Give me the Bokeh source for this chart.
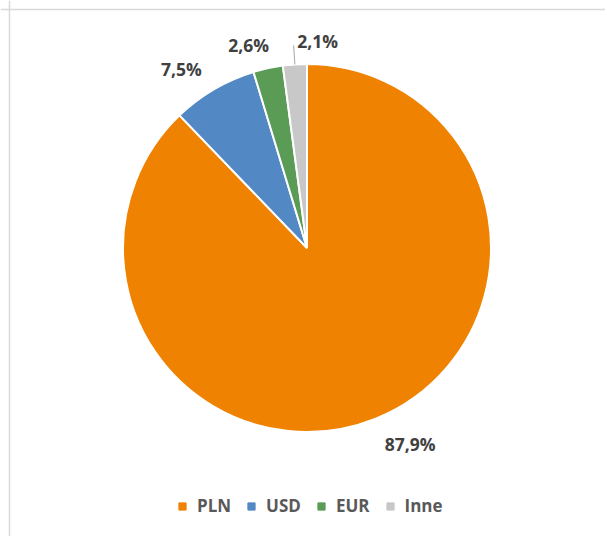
import math
from bokeh.plotting import figure
from bokeh.models import ColumnDataSource, Range1d, Span, Legend, LegendItem
from bokeh.core.properties import value
from bokeh.embed import file_html
from bokeh.resources import INLINE

# ---- data ----
categories = ["PLN", "USD", "EUR", "Inne"]
shares = [87.9, 7.5, 2.6, 2.1]

# ---- style / layout ----
colors = ["#EF8200", "#5288C4", "#5A9B55", "#C8C8C8"]
label_align = ["left", "right", "right", "left"]
label_dx = [0, 0, 6, 4]
label_dy = [-3, 0, 0, 0]
W, H = 605, 536
cx, cy, R = 306.5, H - 247.5, 184.0
label_r = 1.13 * R
FONT = "Open Sans"

total = sum(shares)
starts, ends, mids = [], [], []
acc = 0.0
for s in shares:
    a0 = math.pi / 2 - acc / total * 2 * math.pi
    acc += s
    a1 = math.pi / 2 - acc / total * 2 * math.pi
    starts.append(a0)
    ends.append(a1)
    mids.append((a0 + a1) / 2)

src = ColumnDataSource(dict(
    cat=categories, start=starts, end=ends, color=colors,
))

p = figure(width=W, height=H, output_backend="svg", toolbar_location=None,
           x_range=Range1d(0, W), y_range=Range1d(0, H),
           x_axis_location=None, y_axis_location=None, min_border=0)
p.grid.visible = False
p.outline_line_color = None
p.background_fill_color = "white"

p.wedge(x=cx, y=cy, radius=R, start_angle="start", end_angle="end",
        direction="clock", fill_color="color", line_color="white",
        line_width=2, source=src)

# labels
lx = [cx + label_r * math.cos(m) + d for m, d in zip(mids, label_dx)]
ly = [cy + label_r * math.sin(m) + d for m, d in zip(mids, label_dy)]
texts = [f"{v:.1f}".replace(".", ",") + "%" for v in shares]
lsrc = ColumnDataSource(dict(x=lx, y=ly, t=texts, align=label_align))
p.text(x="x", y="y", text="t", text_align="align", text_baseline="middle",
       text_font=value(FONT), text_font_style="bold", text_font_size="17.5px",
       text_color="#404040", source=lsrc)

# leader line for the smallest slice
m = mids[-1]
p.segment(x0=cx + R * math.cos(m), y0=cy + R * math.sin(m),
          x1=cx + (label_r - 5) * math.cos(m), y1=cy + (label_r - 5) * math.sin(m),
          line_color="#A6A6A6", line_width=1)

# chart-area border (top and left visible)
p.add_layout(Span(location=9, dimension="height", line_color="#D9D9D9", line_width=1.5))
p.add_layout(Span(location=H - 9, dimension="width", line_color="#D9D9D9", line_width=1.5))

# legend
items = []
for c, col in zip(categories, colors):
    r = p.scatter(x=[float("nan")], y=[float("nan")], marker="square", size=9,
                  fill_color=col, line_color=col)
    items.append(LegendItem(label=c, renderers=[r]))
legend = Legend(items=items, orientation="horizontal", location=(173, 19),
                glyph_width=18, glyph_height=18, label_standoff=6, spacing=11,
                padding=0, margin=0, border_line_color=None, background_fill_alpha=0,
                label_text_font=FONT, label_text_font_style="bold",
                label_text_font_size="17px", label_text_color="#595959")
p.add_layout(legend)

open("out.html", "w").write(file_html(p, INLINE))
